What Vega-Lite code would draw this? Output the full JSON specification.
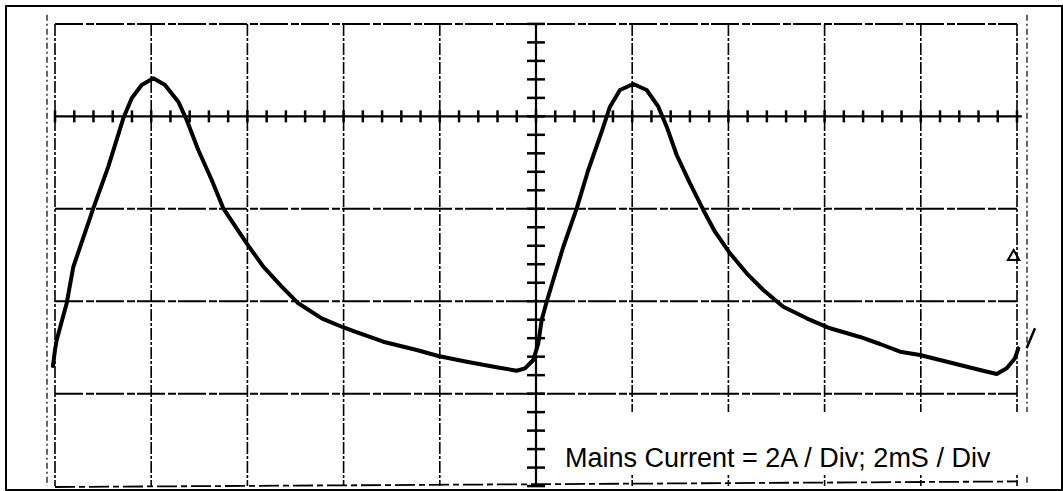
{
  "$schema": "https://vega.github.io/schema/vega-lite/v6.json",
  "width": 1056,
  "height": 484,
  "autosize": {"type": "none"},
  "padding": {"left": 6, "top": 6, "right": 1, "bottom": 1},
  "background": "white",
  "config": {"view": {"stroke": "black", "strokeWidth": 2}},
  "datasets": {
    "vgrid": [{"t": 0}, {"t": 2}, {"t": 4}, {"t": 6}, {"t": 8}, {"t": 12}, {"t": 14}, {"t": 16}, {"t": 18}, {"t": 20}],
    "vaxis": [{"t": 10}],
    "hgrid": [{"a": 2}, {"a": -2}, {"a": -4}, {"a": -6}],
    "haxis": [{"a": 0}],
    "bottom": [{"t": 0, "a": -8.02, "t2": 20, "a2": -7.9}],
    "edges": [{"t": -0.166}, {"t": 20.208}],
    "hticks": [{"t": 0}, {"t": 0.4}, {"t": 0.8}, {"t": 1.2}, {"t": 1.6}, {"t": 2}, {"t": 2.4}, {"t": 2.8}, {"t": 3.2}, {"t": 3.6}, {"t": 4}, {"t": 4.4}, {"t": 4.8}, {"t": 5.2}, {"t": 5.6}, {"t": 6}, {"t": 6.4}, {"t": 6.8}, {"t": 7.2}, {"t": 7.6}, {"t": 8}, {"t": 8.4}, {"t": 8.8}, {"t": 9.2}, {"t": 9.6}, {"t": 10}, {"t": 10.4}, {"t": 10.8}, {"t": 11.2}, {"t": 11.6}, {"t": 12}, {"t": 12.4}, {"t": 12.8}, {"t": 13.2}, {"t": 13.6}, {"t": 14}, {"t": 14.4}, {"t": 14.8}, {"t": 15.2}, {"t": 15.6}, {"t": 16}, {"t": 16.4}, {"t": 16.8}, {"t": 17.2}, {"t": 17.6}, {"t": 18}, {"t": 18.4}, {"t": 18.8}, {"t": 19.2}, {"t": 19.6}, {"t": 20}],
    "vticks": [{"a": -8}, {"a": -7.6}, {"a": -7.2}, {"a": -6.8}, {"a": -6.4}, {"a": -6}, {"a": -5.6}, {"a": -5.2}, {"a": -4.8}, {"a": -4.4}, {"a": -4}, {"a": -3.6}, {"a": -3.2}, {"a": -2.8}, {"a": -2.4}, {"a": -2}, {"a": -1.6}, {"a": -1.2}, {"a": -0.8}, {"a": -0.4}, {"a": 0}, {"a": 0.4}, {"a": 0.8}, {"a": 1.2}, {"a": 1.6}, {"a": 2}],
    "box": [{"t": 10.27, "t2": 20.58, "a": -6.397, "a2": -7.76}],
    "label": [{"t": 10.603, "a": -7.588, "text": "Mains Current = 2A / Div; 2mS / Div"}],
    "trace": [
      {"t": -0.042, "a": -5.402}, {"t": 0, "a": -5.056}, {"t": 0.035, "a": -4.839}, {"t": 0.243, "a": -4.045}, {"t": 0.38, "a": -3.26},
      {"t": 0.796, "a": -1.99}, {"t": 1.108, "a": -1.089}, {"t": 1.42, "a": -0.042}, {"t": 1.595, "a": 0.391}, {"t": 1.802, "a": 0.678},
      {"t": 2.044, "a": 0.823}, {"t": 2.287, "a": 0.678}, {"t": 2.563, "a": 0.317}, {"t": 2.738, "a": -0.079}, {"t": 2.979, "a": -0.728},
      {"t": 3.258, "a": -1.377}, {"t": 3.499, "a": -1.99}, {"t": 3.985, "a": -2.747}, {"t": 4.331, "a": -3.253}, {"t": 4.713, "a": -3.686},
      {"t": 5.058, "a": -4.045}, {"t": 5.545, "a": -4.37}, {"t": 5.96, "a": -4.552}, {"t": 6.237, "a": -4.66}, {"t": 6.825, "a": -4.876},
      {"t": 7.52, "a": -5.056}, {"t": 7.969, "a": -5.186}, {"t": 8.559, "a": -5.309}, {"t": 9.183, "a": -5.43}, {"t": 9.599, "a": -5.504},
      {"t": 9.771, "a": -5.452}, {"t": 9.944, "a": -5.272}, {"t": 10.048, "a": -4.911}, {"t": 10.118, "a": -4.407}, {"t": 10.222, "a": -4.011},
      {"t": 10.568, "a": -2.821}, {"t": 10.846, "a": -1.99}, {"t": 11.087, "a": -1.161}, {"t": 11.366, "a": -0.332}, {"t": 11.538, "a": 0.209},
      {"t": 11.746, "a": 0.57}, {"t": 12.023, "a": 0.7}, {"t": 12.301, "a": 0.57}, {"t": 12.543, "a": 0.209}, {"t": 12.717, "a": -0.224},
      {"t": 12.925, "a": -0.836}, {"t": 13.202, "a": -1.449}, {"t": 13.478, "a": -2.026}, {"t": 13.721, "a": -2.496}, {"t": 14.033, "a": -2.963},
      {"t": 14.38, "a": -3.396}, {"t": 14.726, "a": -3.757}, {"t": 15.141, "a": -4.119}, {"t": 15.628, "a": -4.37}, {"t": 16.112, "a": -4.586},
      {"t": 16.736, "a": -4.774}, {"t": 17.152, "a": -4.926}, {"t": 17.568, "a": -5.093}, {"t": 17.983, "a": -5.164}, {"t": 18.399, "a": -5.272},
      {"t": 18.815, "a": -5.38}, {"t": 19.231, "a": -5.489}, {"t": 19.578, "a": -5.575}, {"t": 19.786, "a": -5.452}, {"t": 19.958, "a": -5.235},
      {"t": 20.027, "a": -5.019}
    ],
    "slash": [{"t": 20.2, "a": -5.02}, {"t": 20.374, "a": -4.586}],
    "marker": [{"t": 19.93, "a": -3.0}]
  },
  "layer": [
    {
      "data": {"name": "vgrid"},
      "mark": {"type": "rule", "color": "black", "strokeWidth": 1.6, "strokeDash": [12, 2, 3, 2]},
      "encoding": {
        "x": {"field": "t", "type": "quantitative", "scale": {"domain": [-1.0187, 20.9356], "nice": false, "zero": false}, "axis": null},
        "y": {"datum": 2, "type": "quantitative", "scale": {"domain": [-8.085, 2.3877], "nice": false, "zero": false}, "axis": null},
        "y2": {"datum": -8}
      }
    },
    {
      "data": {"name": "edges"},
      "mark": {"type": "rule", "color": "black", "strokeWidth": 1.2, "strokeDash": [6, 3, 2, 3]},
      "encoding": {
        "x": {"field": "t", "type": "quantitative", "scale": {"domain": [-1.0187, 20.9356], "nice": false, "zero": false}, "axis": null},
        "y": {"datum": 2.2, "type": "quantitative", "scale": {"domain": [-8.085, 2.3877], "nice": false, "zero": false}, "axis": null},
        "y2": {"datum": -8}
      }
    },
    {
      "data": {"name": "hgrid"},
      "mark": {"type": "rule", "color": "black", "strokeWidth": 2, "strokeDash": [28, 3, 8, 2]},
      "encoding": {
        "y": {"field": "a", "type": "quantitative", "scale": {"domain": [-8.085, 2.3877], "nice": false, "zero": false}, "axis": null},
        "x": {"datum": 0, "type": "quantitative", "scale": {"domain": [-1.0187, 20.9356], "nice": false, "zero": false}, "axis": null},
        "x2": {"datum": 20}
      }
    },
    {
      "data": {"name": "bottom"},
      "mark": {"type": "rule", "color": "black", "strokeWidth": 1.8, "strokeDash": [20, 4, 6, 4]},
      "encoding": {
        "x": {"field": "t", "type": "quantitative", "scale": {"domain": [-1.0187, 20.9356], "nice": false, "zero": false}, "axis": null},
        "y": {"field": "a", "type": "quantitative", "scale": {"domain": [-8.085, 2.3877], "nice": false, "zero": false}, "axis": null},
        "x2": {"field": "t2"},
        "y2": {"field": "a2"}
      }
    },
    {
      "data": {"name": "haxis"},
      "mark": {"type": "rule", "color": "black", "strokeWidth": 2.2},
      "encoding": {
        "y": {"field": "a", "type": "quantitative", "scale": {"domain": [-8.085, 2.3877], "nice": false, "zero": false}, "axis": null},
        "x": {"datum": 0, "type": "quantitative", "scale": {"domain": [-1.0187, 20.9356], "nice": false, "zero": false}, "axis": null},
        "x2": {"datum": 20.1}
      }
    },
    {
      "data": {"name": "vaxis"},
      "mark": {"type": "rule", "color": "black", "strokeWidth": 2.2},
      "encoding": {
        "x": {"field": "t", "type": "quantitative", "scale": {"domain": [-1.0187, 20.9356], "nice": false, "zero": false}, "axis": null},
        "y": {"datum": 2, "type": "quantitative", "scale": {"domain": [-8.085, 2.3877], "nice": false, "zero": false}, "axis": null},
        "y2": {"datum": -8}
      }
    },
    {
      "data": {"name": "hticks"},
      "mark": {"type": "tick", "orient": "vertical", "color": "black", "size": 12, "thickness": 2.5, "opacity": 1},
      "encoding": {
        "x": {"field": "t", "type": "quantitative", "scale": {"domain": [-1.0187, 20.9356], "nice": false, "zero": false}, "axis": null},
        "y": {"datum": 0, "type": "quantitative", "scale": {"domain": [-8.085, 2.3877], "nice": false, "zero": false}, "axis": null}
      }
    },
    {
      "data": {"name": "vticks"},
      "mark": {"type": "tick", "orient": "horizontal", "color": "black", "size": 18, "thickness": 2.5, "opacity": 1},
      "encoding": {
        "y": {"field": "a", "type": "quantitative", "scale": {"domain": [-8.085, 2.3877], "nice": false, "zero": false}, "axis": null},
        "x": {"datum": 10, "type": "quantitative", "scale": {"domain": [-1.0187, 20.9356], "nice": false, "zero": false}, "axis": null}
      }
    },
    {
      "data": {"name": "box"},
      "mark": {"type": "rect", "color": "white", "opacity": 1},
      "encoding": {
        "x": {"field": "t", "type": "quantitative", "scale": {"domain": [-1.0187, 20.9356], "nice": false, "zero": false}, "axis": null},
        "x2": {"field": "t2"},
        "y": {"field": "a", "type": "quantitative", "scale": {"domain": [-8.085, 2.3877], "nice": false, "zero": false}, "axis": null},
        "y2": {"field": "a2"}
      }
    },
    {
      "data": {"name": "label"},
      "mark": {"type": "text", "font": "Liberation Sans", "fontSize": 27, "color": "black", "align": "left", "baseline": "alphabetic"},
      "encoding": {
        "x": {"field": "t", "type": "quantitative", "scale": {"domain": [-1.0187, 20.9356], "nice": false, "zero": false}, "axis": null},
        "y": {"field": "a", "type": "quantitative", "scale": {"domain": [-8.085, 2.3877], "nice": false, "zero": false}, "axis": null},
        "text": {"field": "text"}
      }
    },
    {
      "data": {"name": "trace"},
      "mark": {"type": "line", "color": "black", "strokeWidth": 4, "strokeJoin": "round", "strokeCap": "round"},
      "encoding": {
        "x": {"field": "t", "type": "quantitative", "scale": {"domain": [-1.0187, 20.9356], "nice": false, "zero": false}, "axis": null},
        "y": {"field": "a", "type": "quantitative", "scale": {"domain": [-8.085, 2.3877], "nice": false, "zero": false}, "axis": null},
        "order": {"field": "t"}
      }
    },
    {
      "data": {"name": "slash"},
      "mark": {"type": "line", "color": "black", "strokeWidth": 2.5},
      "encoding": {
        "x": {"field": "t", "type": "quantitative", "scale": {"domain": [-1.0187, 20.9356], "nice": false, "zero": false}, "axis": null},
        "y": {"field": "a", "type": "quantitative", "scale": {"domain": [-8.085, 2.3877], "nice": false, "zero": false}, "axis": null}
      }
    },
    {
      "data": {"name": "marker"},
      "mark": {"type": "point", "shape": "triangle-up", "filled": false, "color": "black", "strokeWidth": 2, "size": 130, "opacity": 1},
      "encoding": {
        "x": {"field": "t", "type": "quantitative", "scale": {"domain": [-1.0187, 20.9356], "nice": false, "zero": false}, "axis": null},
        "y": {"field": "a", "type": "quantitative", "scale": {"domain": [-8.085, 2.3877], "nice": false, "zero": false}, "axis": null}
      }
    }
  ]
}
